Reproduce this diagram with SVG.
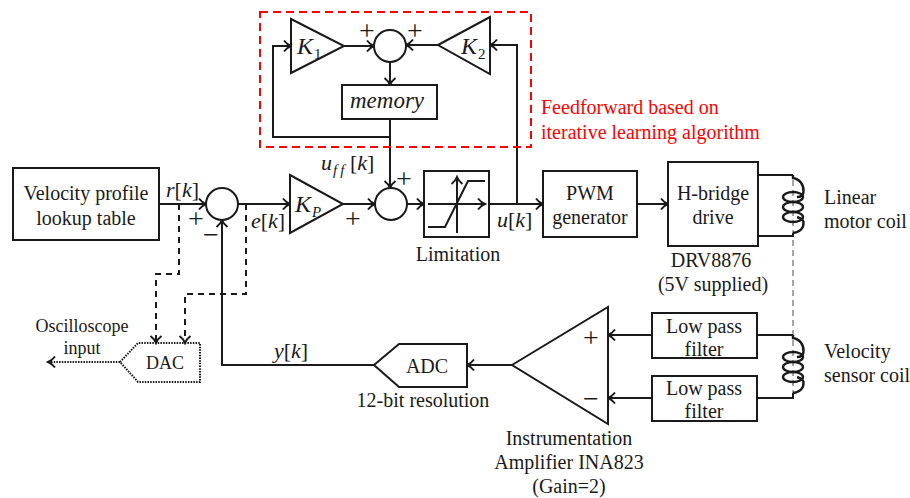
<svg xmlns="http://www.w3.org/2000/svg" width="910" height="498" viewBox="0 0 910 498">
<style>
.w{fill:#fff;stroke:#1a1a1a;stroke-width:2}
.c{fill:none;stroke:#1a1a1a;stroke-width:2;marker-end:url(#a)}
.l{fill:none;stroke:#1a1a1a;stroke-width:2}
.d{fill:none;stroke:#1a1a1a;stroke-width:2;stroke-dasharray:6 5;marker-end:url(#a)}
.o{fill:none;stroke:#1a1a1a;stroke-width:2;stroke-dasharray:1.5 1.2}
text{font-family:"Liberation Serif","Times New Roman",serif;font-size:20px;fill:#1a1a1a}
.m{font-size:22px}
.i{font-style:italic}
.k{font-size:24px;font-style:italic}
.s{font-size:15px}
.t{text-anchor:middle}
.r{fill:#f00}
.p{font-size:28px;text-anchor:middle}
.n{font-size:18px}
</style>
<defs>
<marker id="a" markerUnits="userSpaceOnUse" markerWidth="12" markerHeight="14" refX="10" refY="7" orient="auto"><path d="M3 1.5Q6 5.5 10 7Q6 8.5 3 12.5" fill="none" stroke="#1a1a1a" stroke-width="2"/></marker>
<g id="coil" fill="none" stroke="#1a1a1a" stroke-width="2.4">
<path d="M793 175V178C800 179 804 185 803.5 192C803 196 800 197 797 197"/>
<ellipse cx="793" cy="197" rx="10" ry="5"/>
<ellipse cx="793" cy="207" rx="10" ry="5"/>
<ellipse cx="793" cy="217" rx="10" ry="5"/>
<path d="M797 217C800 218 803 219 803.5 222C804 228 800 232 793 233"/>
</g>
</defs>

<g id="connectors">
<path d="M793 180V395" fill="none" stroke="#888" stroke-width="1.5" stroke-dasharray="6 4"/>
<path class="c" d="M344 46H374"/>
<path class="c" d="M438 45H406"/>
<path class="c" d="M390 62V85"/>
<path class="c" d="M390 119V188"/>
<path class="c" d="M390 137H273V46H291"/>
<path class="c" d="M517 204V45H490"/>
<path class="c" d="M159 204H206"/>
<path class="c" d="M238 204H290"/>
<path class="c" d="M343 204H375"/>
<path class="c" d="M407 204H424"/>
<path class="c" d="M489 204H543"/>
<path class="c" d="M637 204H668"/>
<path class="c" d="M374 365H222V220"/>
<path class="d" d="M179 204V274H156V343"/>
<path class="d" d="M246 204V294H185V343"/>
<path class="o" d="M120 362H52"/>
<path class="c" d="M52 362H48"/>
<path class="c" d="M512 365H467"/>
<path class="c" d="M652 335H608"/>
<path class="c" d="M652 398H608"/>
<path class="l" d="M758 175H793"/>
<path class="l" d="M758 236H793V233"/>
<path class="l" d="M757 335H793"/>
<path class="l" d="M757 398H793V393"/>
</g>

<g id="feedforward-frame"><rect x="260" y="12" width="271" height="135" fill="none" stroke="#f00" stroke-width="2" stroke-dasharray="8 5"/>
<text class="r" x="541" y="114">Feedforward based on</text>
<text class="r" x="541" y="139">iterative learning algorithm</text></g>

<g id="k1"><path class="w" d="M291 19L344 46L291 73Z"/><text class="k" x="297" y="54">K</text><text class="s" x="314" y="59">1</text></g>
<g id="sum-top"><circle class="w" cx="390" cy="46" r="16"/><text class="p" x="367" y="40">+</text><text class="p" x="415" y="40">+</text></g>
<g id="k2"><path class="w" d="M438 45L490 17V74Z"/><text class="k" x="461" y="54">K</text><text class="s" x="478" y="59">2</text></g>
<g id="memory"><rect class="w" x="342" y="85" width="95" height="34"/><text class="t i" x="387" y="108" style="font-size:23px">memory</text></g>

<g id="velocity-profile"><rect class="w" x="13" y="168" width="146" height="72"/><text class="t" x="86" y="200">Velocity profile</text><text class="t" x="86" y="225">lookup table</text></g>
<g id="sum-error"><circle class="w" cx="222" cy="204" r="16"/><text class="p" x="196" y="228">+</text><text class="p" x="211" y="244">−</text></g>
<g id="kp"><path class="w" d="M290 175L343 204L290 233Z"/><text class="k" x="295" y="212">K</text><text class="s i" x="312" y="217">P</text></g>
<g id="sum-ff"><circle class="w" cx="391" cy="204" r="16"/><text class="p" x="404" y="188">+</text><text class="p" x="353" y="228">+</text></g>
<g id="limitation"><rect class="w" x="424" y="171" width="65" height="66"/>
<path class="c" d="M428 204H485"/><path class="c" d="M457 233V177"/><path class="l" d="M428 227H445L468 181H485"/>
<text class="t" x="458" y="261">Limitation</text></g>
<g id="pwm"><rect class="w" x="543" y="171" width="94" height="66"/><text class="t" x="590" y="200">PWM</text><text class="t" x="590" y="224">generator</text></g>
<g id="hbridge"><rect class="w" x="668" y="162" width="90" height="84"/><text class="t" x="713" y="200">H-bridge</text><text class="t" x="713" y="224">drive</text><text class="t" x="711" y="267">DRV8876</text><text class="t" x="713" y="291">(5V supplied)</text></g>
<g id="motor-coil"><use href="#coil"/><text x="824" y="204">Linear</text><text x="824" y="228">motor coil</text></g>
<g id="sensor-coil"><use href="#coil" y="160"/><text x="824" y="358">Velocity</text><text x="824" y="382">sensor coil</text></g>
<g id="lpf-1"><rect class="w" x="652" y="313" width="105" height="45"/><text class="t" x="704" y="333">Low pass</text><text class="t" x="704" y="356">filter</text></g>
<g id="lpf-2"><rect class="w" x="652" y="376" width="105" height="45"/><text class="t" x="704" y="395">Low pass</text><text class="t" x="704" y="418">filter</text></g>
<g id="amp"><path class="w" d="M512 365L608 307V424Z"/><text class="p" x="591" y="347">+</text><text class="p" x="591" y="408">−</text><text class="t" x="569" y="445">Instrumentation</text><text class="t" x="569" y="469">Amplifier INA823</text><text class="t" x="569" y="493">(Gain=2)</text></g>
<g id="adc"><path class="w" d="M374 365L399 344H467V387H399Z"/><text class="t" x="427" y="373">ADC</text><text class="t" x="423" y="407">12-bit resolution</text></g>
<g id="dac"><path class="o" d="M120 362L138 343H200V382H138Z"/><text class="t n" x="165" y="369">DAC</text><text class="t n" x="82" y="332">Oscilloscope</text><text class="t n" x="82" y="354">input</text></g>

<g id="labels">
<text class="m" x="166" y="197"><tspan class="i">r</tspan>[<tspan class="i">k</tspan>]</text>
<text class="m" x="251" y="228"><tspan class="i">e</tspan>[<tspan class="i">k</tspan>]</text>
<text class="m i" x="321" y="170">u</text><text class="i s" x="333" y="175" letter-spacing="3">ff</text><text class="m" x="350" y="170">[<tspan class="i">k</tspan>]</text>
<text class="m" x="497" y="227"><tspan class="i">u</tspan>[<tspan class="i">k</tspan>]</text>
<text class="m" x="274" y="358"><tspan class="i">y</tspan>[<tspan class="i">k</tspan>]</text>
</g>
</svg>
